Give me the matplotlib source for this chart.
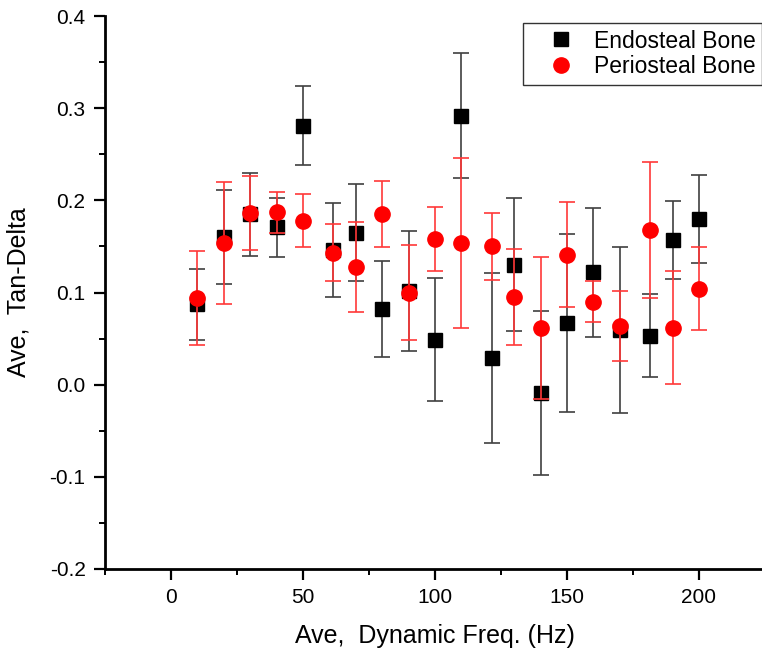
import matplotlib
matplotlib.use("Agg")
import matplotlib.pyplot as plt
from matplotlib.lines import Line2D
from matplotlib.ticker import MultipleLocator, FormatStrFormatter

plt.rcParams['font.family'] = ['Liberation Sans', 'DejaVu Sans']

# Averaged dynamic frequency (Hz)
freq = [10, 20, 30, 40, 50, 61.5, 70, 80, 90, 100,
        110, 121.5, 130, 140, 150, 160, 170, 181.5, 190, 200]

# Endosteal bone: mean tan-delta and error
endo_mean = [0.087, 0.160, 0.185, 0.171, 0.281, 0.146, 0.165, 0.082, 0.102, 0.049,
             0.292, 0.029, 0.130, -0.009, 0.067, 0.122, 0.059, 0.053, 0.157, 0.180]
endo_err = [0.039, 0.051, 0.045, 0.032, 0.043, 0.051, 0.053, 0.052, 0.065, 0.067,
            0.068, 0.092, 0.072, 0.089, 0.097, 0.070, 0.090, 0.045, 0.042, 0.048]

# Periosteal bone: mean tan-delta and error
peri_mean = [0.094, 0.154, 0.186, 0.187, 0.178, 0.143, 0.128, 0.185, 0.100, 0.158,
             0.154, 0.150, 0.095, 0.061, 0.141, 0.090, 0.064, 0.168, 0.062, 0.104]
peri_err = [0.051, 0.066, 0.040, 0.022, 0.029, 0.031, 0.049, 0.036, 0.051, 0.035,
            0.092, 0.036, 0.052, 0.077, 0.057, 0.022, 0.038, 0.074, 0.061, 0.045]

series_labels = ['Endosteal Bone', 'Periosteal Bone']

W, H = 762, 656
fig = plt.figure(figsize=(W / 100, H / 100), dpi=100)
ax = fig.add_axes([105 / W, (H - 569) / H, 660 / W, 553 / H])

ax.errorbar(freq, endo_mean, yerr=endo_err, fmt='s', color='black',
            ms=10, ecolor=(0.25, 0.25, 0.25), elinewidth=1.2, capsize=6,
            capthick=1.2, zorder=2)
ax.errorbar(freq, peri_mean, yerr=peri_err, fmt='o', color='#ff0000',
            ms=11, ecolor='#ff3838', elinewidth=1.2, capsize=6,
            capthick=1.2, zorder=3)

ax.set_xlim(-25, 225)
ax.set_ylim(-0.2, 0.4)
ax.xaxis.set_major_locator(MultipleLocator(50))
ax.xaxis.set_minor_locator(MultipleLocator(25))
ax.yaxis.set_major_locator(MultipleLocator(0.1))
ax.yaxis.set_minor_locator(MultipleLocator(0.05))
ax.yaxis.set_major_formatter(FormatStrFormatter('%.1f'))

for side in ('top', 'right'):
    ax.spines[side].set_visible(False)
for side in ('left', 'bottom'):
    ax.spines[side].set_linewidth(2)

ax.tick_params(which='major', direction='out', length=8, width=1.6,
               labelsize=15, pad=6)
ax.tick_params(which='minor', direction='out', length=4, width=1.4)

ax.set_xlabel('Ave,  Dynamic Freq. (Hz)', fontsize=18, labelpad=12)
ax.set_ylabel('Ave,  Tan-Delta', fontsize=18, labelpad=14)

# Legend shows markers only (no error bars)
handles = [
    Line2D([], [], marker='s', ls='none', color='black', ms=10),
    Line2D([], [], marker='o', ls='none', color='#ff0000', ms=11),
]
leg = ax.legend(handles, series_labels, loc='upper left',
                bbox_to_anchor=(0.633, 0.988),
                fontsize=16.5, frameon=True, fancybox=False,
                borderpad=0.3, handlelength=2.7, handletextpad=0.1,
                labelspacing=0.1, borderaxespad=0)
leg.get_frame().set_edgecolor('black')
leg.get_frame().set_linewidth(1)

fig.savefig('out.png', dpi=100)
